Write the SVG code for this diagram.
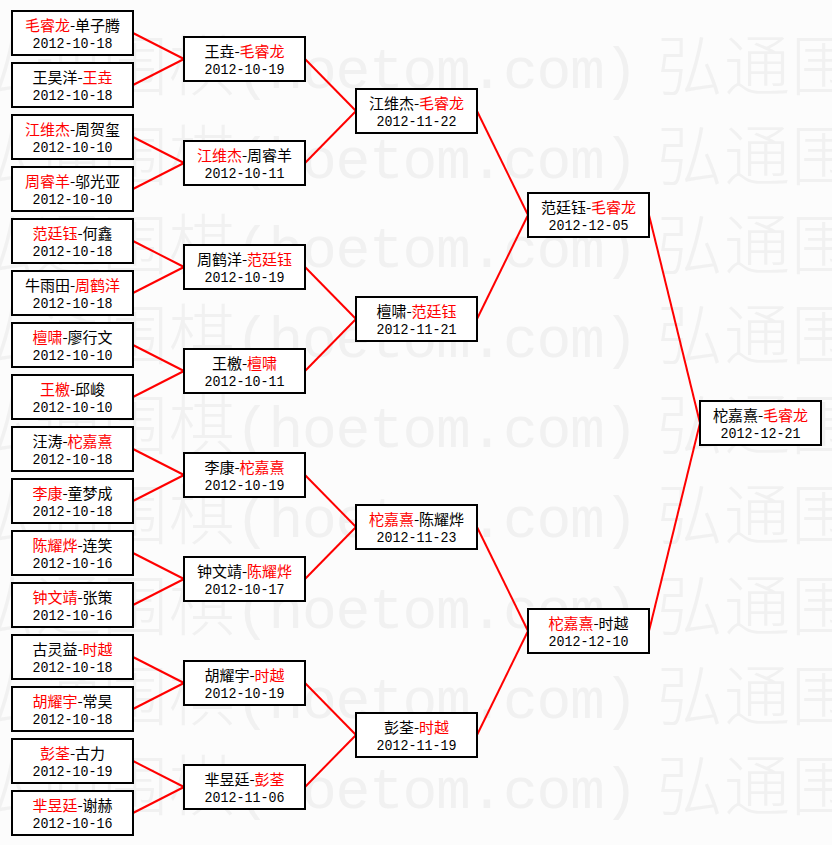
<svg xmlns="http://www.w3.org/2000/svg" xmlns:xlink="http://www.w3.org/1999/xlink" width="832" height="845" viewBox="0 0 832 845">
<style>
.bg{fill:#fcfcfc}
.wm{fill:#f1f1f1}
.wmc{font-family:"Noto Sans CJK SC","Noto Sans CJK JP",sans-serif;font-size:66px;font-weight:300}
.wma{font-family:"Liberation Mono",monospace;font-size:58px}
.box{fill:#fff;stroke:#000;stroke-width:2}
.nm{font-family:"Noto Sans CJK SC","Noto Sans CJK JP",sans-serif;font-size:15px;text-anchor:middle;fill:#000}
.r{fill:#f00}
.dt{font-family:"Liberation Mono",monospace;font-size:15px;text-anchor:middle;fill:#000}
.cn line{stroke:#f00;stroke-width:2}
</style>
<defs>
<g id="wmrow" class="wm">
<text class="wmc" x="-32 35 102 169 657 724 791" y="0">弘通围棋弘通围</text>
<text class="wma" x="235 268.5 302 335.5 369 402.5 436 469.5 503 536.5 570 603.5" y="-2">(hoetom.com)</text>
</g>
</defs>
<rect class="bg" x="0" y="0" width="832" height="845"/>
<g id="watermark">
<use xlink:href="#wmrow" y="90"/>
<use xlink:href="#wmrow" y="180"/>
<use xlink:href="#wmrow" y="269"/>
<use xlink:href="#wmrow" y="359"/>
<use xlink:href="#wmrow" y="449"/>
<use xlink:href="#wmrow" y="539"/>
<use xlink:href="#wmrow" y="630"/>
<use xlink:href="#wmrow" y="720"/>
<use xlink:href="#wmrow" y="810"/>
</g>
<g id="connectors" class="cn">
<line x1="133" y1="33" x2="184" y2="59"/>
<line x1="133" y1="85" x2="184" y2="59"/>
<line x1="133" y1="137" x2="184" y2="163"/>
<line x1="133" y1="189" x2="184" y2="163"/>
<line x1="133" y1="241" x2="184" y2="267"/>
<line x1="133" y1="293" x2="184" y2="267"/>
<line x1="133" y1="345" x2="184" y2="371"/>
<line x1="133" y1="397" x2="184" y2="371"/>
<line x1="133" y1="449" x2="184" y2="475"/>
<line x1="133" y1="501" x2="184" y2="475"/>
<line x1="133" y1="553" x2="184" y2="579"/>
<line x1="133" y1="605" x2="184" y2="579"/>
<line x1="133" y1="657" x2="184" y2="683"/>
<line x1="133" y1="709" x2="184" y2="683"/>
<line x1="133" y1="761" x2="184" y2="787"/>
<line x1="133" y1="813" x2="184" y2="787"/>
<line x1="305" y1="59" x2="356" y2="111"/>
<line x1="305" y1="163" x2="356" y2="111"/>
<line x1="305" y1="267" x2="356" y2="319"/>
<line x1="305" y1="371" x2="356" y2="319"/>
<line x1="305" y1="475" x2="356" y2="527"/>
<line x1="305" y1="579" x2="356" y2="527"/>
<line x1="305" y1="683" x2="356" y2="735"/>
<line x1="305" y1="787" x2="356" y2="735"/>
<line x1="477" y1="111" x2="528" y2="215"/>
<line x1="477" y1="319" x2="528" y2="215"/>
<line x1="477" y1="527" x2="528" y2="631"/>
<line x1="477" y1="735" x2="528" y2="631"/>
<line x1="649" y1="215" x2="700" y2="423"/>
<line x1="649" y1="631" x2="700" y2="423"/>
</g>
<!-- round 1 -->
<g id="r1-1"><rect class="box" x="12" y="11" width="121" height="44"/><text class="nm" x="72.5" y="31"><tspan class="r">毛睿龙</tspan>-单子腾</text><text class="dt" x="72.5" y="48" textLength="80" lengthAdjust="spacingAndGlyphs">2012-10-18</text></g>
<g id="r1-2"><rect class="box" x="12" y="63" width="121" height="44"/><text class="nm" x="72.5" y="83">王昊洋-<tspan class="r">王垚</tspan></text><text class="dt" x="72.5" y="100" textLength="80" lengthAdjust="spacingAndGlyphs">2012-10-18</text></g>
<g id="r1-3"><rect class="box" x="12" y="115" width="121" height="44"/><text class="nm" x="72.5" y="135"><tspan class="r">江维杰</tspan>-周贺玺</text><text class="dt" x="72.5" y="152" textLength="80" lengthAdjust="spacingAndGlyphs">2012-10-10</text></g>
<g id="r1-4"><rect class="box" x="12" y="167" width="121" height="44"/><text class="nm" x="72.5" y="187"><tspan class="r">周睿羊</tspan>-邬光亚</text><text class="dt" x="72.5" y="204" textLength="80" lengthAdjust="spacingAndGlyphs">2012-10-10</text></g>
<g id="r1-5"><rect class="box" x="12" y="219" width="121" height="44"/><text class="nm" x="72.5" y="239"><tspan class="r">范廷钰</tspan>-何鑫</text><text class="dt" x="72.5" y="256" textLength="80" lengthAdjust="spacingAndGlyphs">2012-10-18</text></g>
<g id="r1-6"><rect class="box" x="12" y="271" width="121" height="44"/><text class="nm" x="72.5" y="291">牛雨田-<tspan class="r">周鹤洋</tspan></text><text class="dt" x="72.5" y="308" textLength="80" lengthAdjust="spacingAndGlyphs">2012-10-18</text></g>
<g id="r1-7"><rect class="box" x="12" y="323" width="121" height="44"/><text class="nm" x="72.5" y="343"><tspan class="r">檀啸</tspan>-廖行文</text><text class="dt" x="72.5" y="360" textLength="80" lengthAdjust="spacingAndGlyphs">2012-10-10</text></g>
<g id="r1-8"><rect class="box" x="12" y="375" width="121" height="44"/><text class="nm" x="72.5" y="395"><tspan class="r">王檄</tspan>-邱峻</text><text class="dt" x="72.5" y="412" textLength="80" lengthAdjust="spacingAndGlyphs">2012-10-10</text></g>
<g id="r1-9"><rect class="box" x="12" y="427" width="121" height="44"/><text class="nm" x="72.5" y="447">汪涛-<tspan class="r">柁嘉熹</tspan></text><text class="dt" x="72.5" y="464" textLength="80" lengthAdjust="spacingAndGlyphs">2012-10-18</text></g>
<g id="r1-10"><rect class="box" x="12" y="479" width="121" height="44"/><text class="nm" x="72.5" y="499"><tspan class="r">李康</tspan>-童梦成</text><text class="dt" x="72.5" y="516" textLength="80" lengthAdjust="spacingAndGlyphs">2012-10-18</text></g>
<g id="r1-11"><rect class="box" x="12" y="531" width="121" height="44"/><text class="nm" x="72.5" y="551"><tspan class="r">陈耀烨</tspan>-连笑</text><text class="dt" x="72.5" y="568" textLength="80" lengthAdjust="spacingAndGlyphs">2012-10-16</text></g>
<g id="r1-12"><rect class="box" x="12" y="583" width="121" height="44"/><text class="nm" x="72.5" y="603"><tspan class="r">钟文靖</tspan>-张策</text><text class="dt" x="72.5" y="620" textLength="80" lengthAdjust="spacingAndGlyphs">2012-10-16</text></g>
<g id="r1-13"><rect class="box" x="12" y="635" width="121" height="44"/><text class="nm" x="72.5" y="655">古灵益-<tspan class="r">时越</tspan></text><text class="dt" x="72.5" y="672" textLength="80" lengthAdjust="spacingAndGlyphs">2012-10-18</text></g>
<g id="r1-14"><rect class="box" x="12" y="687" width="121" height="44"/><text class="nm" x="72.5" y="707"><tspan class="r">胡耀宇</tspan>-常昊</text><text class="dt" x="72.5" y="724" textLength="80" lengthAdjust="spacingAndGlyphs">2012-10-18</text></g>
<g id="r1-15"><rect class="box" x="12" y="739" width="121" height="44"/><text class="nm" x="72.5" y="759"><tspan class="r">彭荃</tspan>-古力</text><text class="dt" x="72.5" y="776" textLength="80" lengthAdjust="spacingAndGlyphs">2012-10-19</text></g>
<g id="r1-16"><rect class="box" x="12" y="791" width="121" height="44"/><text class="nm" x="72.5" y="811"><tspan class="r">芈昱廷</tspan>-谢赫</text><text class="dt" x="72.5" y="828" textLength="80" lengthAdjust="spacingAndGlyphs">2012-10-16</text></g>
<!-- round 2 -->
<g id="r2-1"><rect class="box" x="184" y="37" width="121" height="44"/><text class="nm" x="244.5" y="57">王垚-<tspan class="r">毛睿龙</tspan></text><text class="dt" x="244.5" y="74" textLength="80" lengthAdjust="spacingAndGlyphs">2012-10-19</text></g>
<g id="r2-2"><rect class="box" x="184" y="141" width="121" height="44"/><text class="nm" x="244.5" y="161"><tspan class="r">江维杰</tspan>-周睿羊</text><text class="dt" x="244.5" y="178" textLength="80" lengthAdjust="spacingAndGlyphs">2012-10-11</text></g>
<g id="r2-3"><rect class="box" x="184" y="245" width="121" height="44"/><text class="nm" x="244.5" y="265">周鹤洋-<tspan class="r">范廷钰</tspan></text><text class="dt" x="244.5" y="282" textLength="80" lengthAdjust="spacingAndGlyphs">2012-10-19</text></g>
<g id="r2-4"><rect class="box" x="184" y="349" width="121" height="44"/><text class="nm" x="244.5" y="369">王檄-<tspan class="r">檀啸</tspan></text><text class="dt" x="244.5" y="386" textLength="80" lengthAdjust="spacingAndGlyphs">2012-10-11</text></g>
<g id="r2-5"><rect class="box" x="184" y="453" width="121" height="44"/><text class="nm" x="244.5" y="473">李康-<tspan class="r">柁嘉熹</tspan></text><text class="dt" x="244.5" y="490" textLength="80" lengthAdjust="spacingAndGlyphs">2012-10-19</text></g>
<g id="r2-6"><rect class="box" x="184" y="557" width="121" height="44"/><text class="nm" x="244.5" y="577">钟文靖-<tspan class="r">陈耀烨</tspan></text><text class="dt" x="244.5" y="594" textLength="80" lengthAdjust="spacingAndGlyphs">2012-10-17</text></g>
<g id="r2-7"><rect class="box" x="184" y="661" width="121" height="44"/><text class="nm" x="244.5" y="681">胡耀宇-<tspan class="r">时越</tspan></text><text class="dt" x="244.5" y="698" textLength="80" lengthAdjust="spacingAndGlyphs">2012-10-19</text></g>
<g id="r2-8"><rect class="box" x="184" y="765" width="121" height="44"/><text class="nm" x="244.5" y="785">芈昱廷-<tspan class="r">彭荃</tspan></text><text class="dt" x="244.5" y="802" textLength="80" lengthAdjust="spacingAndGlyphs">2012-11-06</text></g>
<!-- round 3 -->
<g id="r3-1"><rect class="box" x="356" y="89" width="121" height="44"/><text class="nm" x="416.5" y="109">江维杰-<tspan class="r">毛睿龙</tspan></text><text class="dt" x="416.5" y="126" textLength="80" lengthAdjust="spacingAndGlyphs">2012-11-22</text></g>
<g id="r3-2"><rect class="box" x="356" y="297" width="121" height="44"/><text class="nm" x="416.5" y="317">檀啸-<tspan class="r">范廷钰</tspan></text><text class="dt" x="416.5" y="334" textLength="80" lengthAdjust="spacingAndGlyphs">2012-11-21</text></g>
<g id="r3-3"><rect class="box" x="356" y="505" width="121" height="44"/><text class="nm" x="416.5" y="525"><tspan class="r">柁嘉熹</tspan>-陈耀烨</text><text class="dt" x="416.5" y="542" textLength="80" lengthAdjust="spacingAndGlyphs">2012-11-23</text></g>
<g id="r3-4"><rect class="box" x="356" y="713" width="121" height="44"/><text class="nm" x="416.5" y="733">彭荃-<tspan class="r">时越</tspan></text><text class="dt" x="416.5" y="750" textLength="80" lengthAdjust="spacingAndGlyphs">2012-11-19</text></g>
<!-- round 4 -->
<g id="r4-1"><rect class="box" x="528" y="193" width="121" height="44"/><text class="nm" x="588.5" y="213">范廷钰-<tspan class="r">毛睿龙</tspan></text><text class="dt" x="588.5" y="230" textLength="80" lengthAdjust="spacingAndGlyphs">2012-12-05</text></g>
<g id="r4-2"><rect class="box" x="528" y="609" width="121" height="44"/><text class="nm" x="588.5" y="629"><tspan class="r">柁嘉熹</tspan>-时越</text><text class="dt" x="588.5" y="646" textLength="80" lengthAdjust="spacingAndGlyphs">2012-12-10</text></g>
<!-- final -->
<g id="r5-1"><rect class="box" x="700" y="401" width="121" height="44"/><text class="nm" x="760.5" y="421">柁嘉熹-<tspan class="r">毛睿龙</tspan></text><text class="dt" x="760.5" y="438" textLength="80" lengthAdjust="spacingAndGlyphs">2012-12-21</text></g>
</svg>
